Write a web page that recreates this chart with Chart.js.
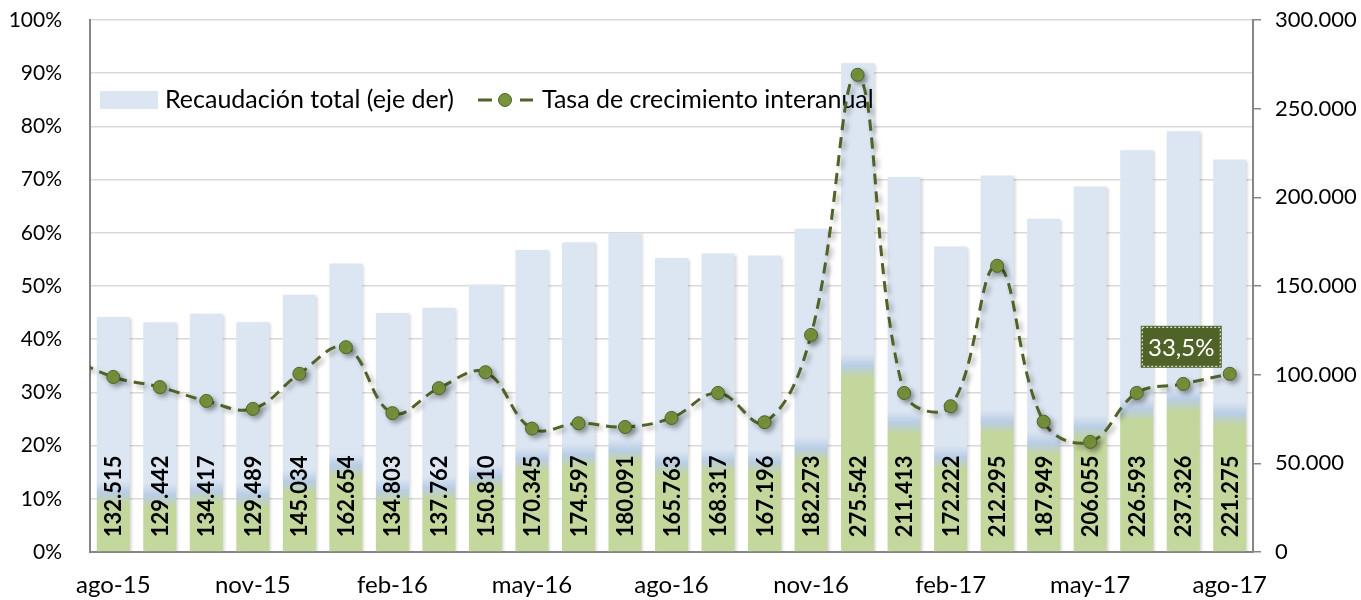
<!DOCTYPE html>
<html>
<head>
<meta charset="utf-8">
<script src="https://cdn.jsdelivr.net/npm/chart.js@4.4.0/dist/chart.umd.min.js"></script>
<style>
html,body{margin:0;padding:0;background:#fff;}
#wrap{width:1361px;height:600px;position:relative;}
</style>
</head>
<body>
<div id="wrap"><canvas id="c" width="1361" height="600"></canvas></div>
<script>
// ---- data ----
const categories = ['jul-15','ago-15','sep-15','oct-15','nov-15','dic-15','ene-16','feb-16','mar-16','abr-16','may-16','jun-16','jul-16','ago-16','sep-16','oct-16','nov-16','dic-16','ene-17','feb-17','mar-17','abr-17','may-17','jun-17','jul-17','ago-17'];
const recaudacion = [null,132515,129442,134417,129489,145034,162654,134803,137762,150810,170345,174597,180091,165763,168317,167196,182273,275542,211413,172222,212295,187949,206055,226593,237326,221275];
const tasa = [36.8,32.9,31.0,28.4,26.9,33.5,38.5,26.1,30.8,33.8,23.2,24.2,23.5,25.2,29.9,24.4,40.8,89.7,29.9,27.4,53.8,24.5,20.7,29.9,31.6,33.5];
const shownTicks = ['ago-15','nov-15','feb-16','may-16','ago-16','nov-16','feb-17','may-17','ago-17'];
const leftTicks = [0,10,20,30,40,50,60,70,80,90,100];
const rightTicks = [0,50000,100000,150000,200000,250000,300000];
const seriesNames = ['Recaudación total (eje der)','Tasa de crecimiento interanual'];
const lastLabel = '33,5%';

const FONT = 'Lato, "Open Sans", sans-serif';
const fmt = v => String(Math.round(v)).replace(/\B(?=(\d{3})+(?!\d))/g, '.');

function barFill(ctx){
  const chart = ctx.chart;
  const yR = chart.scales.yR;
  if (!chart.chartArea || !yR || ctx.raw == null) return '#dce6f2';
  const base = yR.getPixelForValue(0);
  const top = yR.getPixelForValue(ctx.raw);
  const g = yR.getPixelForValue((ctx.raw - 65500) / 2);
  const h = base - top;
  if (h <= 0) return '#dce6f2';
  const f = (base - g) / h;
  const px = 12 / h;
  const grad = chart.ctx.createLinearGradient(0, base, 0, top);
  const cl = x => Math.max(0, Math.min(1, x));
  grad.addColorStop(0, '#c4d79c');
  grad.addColorStop(cl(f - px), '#c3d69b');
  grad.addColorStop(cl(f), '#b9cde5');
  grad.addColorStop(cl(f + px), '#dce6f2');
  grad.addColorStop(1, '#dce6f2');
  return grad;
}

const overlay = {
  id: 'overlay',
  beforeDatasetDraw(chart, args){
    const c = chart.ctx;
    c.save();
    if (args.index === 0){
      c.shadowColor = 'rgba(0,0,0,0.18)';
      c.shadowBlur = 3; c.shadowOffsetX = 2; c.shadowOffsetY = 1;
    } else {
      c.shadowColor = 'rgba(0,0,0,0.35)';
      c.shadowBlur = 5; c.shadowOffsetX = 3; c.shadowOffsetY = 3;
    }
  },
  afterDatasetDraw(chart, args){
    const c = chart.ctx;
    c.restore();
    if (args.index === 0){
      // bar value labels
      const meta = chart.getDatasetMeta(0);
      c.save();
      c.fillStyle = '#000';
      c.font = 'bold 22px ' + FONT;
      c.textAlign = 'left';
      c.textBaseline = 'middle';
      meta.data.forEach((el, i) => {
        const v = recaudacion[i];
        if (v == null || el.x < chart.chartArea.left) return;
        c.save();
        c.translate(el.x + 1, el.base - 14);
        c.rotate(-Math.PI / 2);
        c.fillText(fmt(v), 0, 0);
        c.restore();
      });
      // legend
      c.fillStyle = '#dce6f2';
      c.fillRect(100, 91, 58, 18);
      c.fillStyle = '#000';
      c.font = '25px ' + FONT;
      c.fillText(seriesNames[0], 165, 100);
      c.strokeStyle = '#4f6228';
      c.lineWidth = 3;
      c.beginPath(); c.moveTo(478, 100); c.lineTo(492, 100); c.moveTo(520, 100); c.lineTo(533, 100); c.stroke();
      c.beginPath(); c.arc(505, 100, 6.5, 0, Math.PI * 2);
      c.fillStyle = '#77933c'; c.fill();
      c.lineWidth = 1; c.stroke();
      c.fillStyle = '#000';
      c.fillText(seriesNames[1], 542, 100);
      c.restore();
    } else {
      // last point label
      const meta = chart.getDatasetMeta(1);
      const el = meta.data[meta.data.length - 1];
      const x = el.x - 89, y = el.y - 48, w = 81, h = 42;
      c.save();
      c.fillStyle = '#4f6228';
      c.fillRect(x, y, w, h);
      c.strokeStyle = '#ffffff';
      c.lineWidth = 1;
      c.setLineDash([2, 2]);
      c.strokeRect(x + 1.5, y + 1.5, w - 3, h - 3);
      c.setLineDash([]);
      c.fillStyle = '#fff';
      c.font = '24px ' + FONT;
      c.textAlign = 'center';
      c.textBaseline = 'middle';
      c.fillText(lastLabel, x + w / 2, y + h / 2 + 1);
      c.restore();
    }
  }
};

new Chart(document.getElementById('c'), {
  data: {
    labels: categories,
    datasets: [
      {
        type: 'bar',
        label: seriesNames[0],
        data: recaudacion,
        yAxisID: 'yR',
        order: 2,
        backgroundColor: barFill,
        borderWidth: 0,
        barPercentage: 0.71,
        categoryPercentage: 1
      },
      {
        type: 'line',
        label: seriesNames[1],
        data: tasa,
        yAxisID: 'yL',
        order: 1,
        borderColor: '#4f6228',
        borderWidth: 3,
        borderDash: [11, 7],
        tension: 0.4,
        pointRadius: 6.5,
        pointBackgroundColor: '#77933c',
        pointBorderColor: '#4f6228',
        pointBorderWidth: 1,
        fill: false
      }
    ]
  },
  options: {
    responsive: false,
    animation: false,
    events: [],
    layout: { padding: { top: 20, left: 0, right: 0, bottom: 0 } },
    plugins: { legend: { display: false }, tooltip: { enabled: false } },
    scales: {
      x: {
        type: 'category',
        min: 'ago-15',
        offset: true,
        grid: { display: false },
        border: { color: '#868686', width: 2 },
        ticks: {
          autoSkip: false, maxRotation: 0, minRotation: 0,
          color: '#000', font: { size: 24, family: FONT }, padding: 11,
          callback: function(v){ const l = this.getLabelForValue(v); return shownTicks.includes(l) ? l : ''; }
        },
        afterFit: s => { s.height = 48; s.paddingTop = 0; s.paddingBottom = 0; }
      },
      yL: {
        position: 'left',
        min: 0, max: 100,
        afterBuildTicks: s => { s.ticks = leftTicks.map(v => ({ value: v })); },
        grid: { color: '#d9d9d9', lineWidth: 1.5, drawTicks: false },
        border: { color: '#868686', width: 2 },
        ticks: { color: '#000', font: { size: 21, family: FONT }, padding: 28, callback: v => v + '%' },
        afterFit: s => { s.width = 90; s.paddingTop = 0; s.paddingBottom = 0; }
      },
      yR: {
        position: 'right',
        min: 0, max: 300000,
        afterBuildTicks: s => { s.ticks = rightTicks.map(v => ({ value: v })); },
        grid: { drawOnChartArea: false, color: '#868686', tickLength: 8, lineWidth: 1.5 },
        border: { color: '#868686', width: 2 },
        ticks: { color: '#000', font: { size: 22, family: FONT }, padding: 14, callback: v => fmt(v) },
        afterFit: s => { s.width = 108; s.paddingTop = 0; s.paddingBottom = 0; }
      }
    }
  },
  plugins: [overlay]
});
</script>
</body>
</html>
